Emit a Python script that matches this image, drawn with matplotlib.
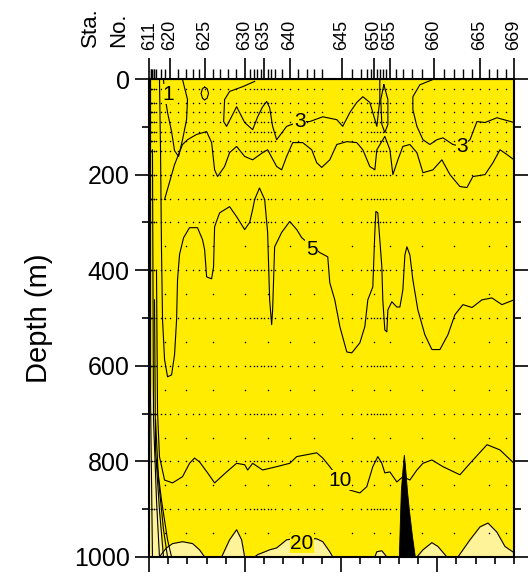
import numpy as np
import matplotlib.pyplot as plt

plt.rcParams['font.family'] = ['Liberation Sans', 'DejaVu Sans']

# station numbers and their position along the section (km)
sta_no = list(range(611, 670))
sta_km = [0.5, 1.6, 2.6, 3.6, 4.7, 5.7, 7.8, 12.0, 16.2, 21.4,
          29.7, 38.0, 45.3, 51.6, 57.9, 66.2, 73.5, 81.8, 90.2, 99.6,
          104.8, 108.9, 112.1, 116.2, 119.4, 123.5, 126.7, 130.8, 138.1, 146.5,
          154.8, 164.2, 171.5, 179.8, 200.7, 211.1, 220.5, 226.7, 230.9, 234.1,
          237.2, 240.3, 243.5, 246.6, 250.8, 257.0, 264.3, 273.7, 284.1, 296.6,
          307.1, 317.5, 326.9, 336.3, 344.6, 354.0, 362.3, 371.7, 379.5]
sta_labeled = [611, 620, 625, 630, 635, 640, 645, 650, 655, 660, 665, 669]

# sampling depths (m)
shallow_depths = [20, 50, 70, 90, 110, 130, 150, 200, 250]
deep_depths = [300, 400, 500, 600, 700, 800, 900, 1000]
half_depths = [350, 450, 550, 650, 750, 850, 950]
half_sta = [619, 622, 626, 630, 636, 640, 643, 646, 650, 655, 659, 662, 666, 668]

# contour lines (distance km, depth m)
c3a_km = [110.0, 97.5, 83.9, 78.7, 77.7, 80.8, 91.2, 94.3, 99.6, 107.9, 113.1, 118.3,
          122.5, 125.6, 128.7, 132.9, 143.3, 156.9, 167.3, 180.9, 195.5, 201.7, 209.1,
          216.3, 222.6, 229.9, 237.2, 240.3, 240.3]
c3a_m = [5, 16, 26, 43, 89, 99, 58, 70, 91, 106, 79, 58,
         47, 60, 99, 127, 99, 89, 89, 79, 85, 99, 70,
         49, 37, 49, 99, 43, 1]
c3b_km = [295.6, 282.0, 274.7, 274.7, 278.9, 285.2, 292.4, 299.7, 306.0, 316.4,
          325.8, 334.2, 341.4, 349.8, 362.2, 380.0]
c3b_m = [1, 12, 37, 64, 99, 127, 137, 127, 123, 137,
         141, 127, 89, 91, 81, 91]
c3c_km = [244.5, 248.7, 248.7, 245.5, 242.4, 241.3, 244.5]
c3c_m = [12, 43, 95, 112, 95, 43, 12]

c4_km = [16.2, 26.6, 34.9, 40.1, 49.5, 60.0, 65.2, 68.3, 71.4, 78.7, 83.9, 91.2,
         99.6, 107.9, 118.3, 123.5, 132.9, 138.1, 143.3, 149.6, 160.0, 169.4, 174.6,
         179.8, 188.2, 195.5, 205.9, 216.3, 222.6, 229.9, 235.1, 237.2, 245.5, 250.8,
         253.9, 259.1, 264.3, 271.6, 278.9, 285.2, 295.6, 304.9, 313.3, 323.7, 331.0,
         337.2, 349.8, 358.1, 365.4, 372.7, 380.0]
c4_m = [252, 179, 137, 127, 116, 110, 133, 190, 204, 183, 154, 141,
        162, 169, 154, 148, 183, 190, 162, 133, 133, 148, 175,
        185, 169, 137, 131, 133, 148, 183, 190, 148, 120, 148,
        200, 169, 141, 137, 154, 196, 190, 169, 200, 225, 227,
        204, 200, 175, 148, 158, 169]

c5_km = [10.9, 12.0, 13.0, 14.1, 16.2, 19.3, 23.5, 26.6, 28.7, 29.7, 31.8, 36.0,
         42.2, 50.5, 55.7, 57.9, 60.0, 65.2, 67.2, 68.3, 73.5, 83.9, 91.2, 99.6,
         104.8, 107.9, 110.0, 115.0, 120.4, 123.5, 125.6, 127.7, 128.7, 130.8, 138.1,
         146.5, 153.8, 159.0, 177.7, 186.1, 188.2, 193.4, 198.7, 205.9, 211.1, 219.5,
         224.7, 227.8, 233.0, 235.1, 236.2, 238.2, 242.4, 243.4, 245.5, 247.6, 248.7,
         252.8, 258.0, 261.2, 264.3, 266.4, 268.5, 271.6, 274.7, 279.9, 287.2, 294.5,
         302.9, 311.2, 318.5, 326.8, 336.3, 346.6, 357.0, 367.4, 380.0]
c5_m = [1, 148, 357, 504, 587, 623, 619, 577, 504, 420, 367, 332,
        311, 311, 336, 357, 414, 418, 393, 309, 280, 267, 288, 315,
        300, 273, 252, 228, 252, 321, 462, 514, 483, 351, 321,
        298, 315, 332, 363, 372, 426, 462, 518, 571, 573, 552,
        518, 462, 435, 321, 277, 280, 393, 462, 525, 529, 483,
        466, 477, 477, 441, 368, 351, 368, 420, 483, 535, 566,
        566, 535, 493, 472, 478, 462, 458, 472, 462]

c10_km = [7.8, 8.9, 10.9, 16.2, 24.5, 34.9, 42.2, 47.4, 52.6, 61.0, 68.3, 80.8,
          91.2, 99.6, 102.7, 107.9, 113.1, 118.3, 132.9, 146.5, 153.8, 164.2, 174.6,
          180.9, 188.2, 198.7, 209.1, 219.5, 226.7, 233.0, 238.2, 242.4, 245.5, 250.8,
          258.0, 264.3, 271.6, 278.9, 285.2, 294.5, 306.0, 323.7, 334.2, 351.9, 365.4,
          380.0]
c10_m = [400, 698, 790, 839, 845, 832, 804, 793, 801, 824, 845, 822,
         804, 807, 818, 804, 811, 818, 811, 804, 790, 786, 782,
         793, 811, 839, 860, 866, 853, 811, 790, 804, 824, 822,
         843, 832, 839, 818, 804, 797, 811, 828, 804, 765, 776,
         804]

c1_km = [34.9, 40.1, 39.1, 34.9, 30.8, 26.6, 23.5, 19.3, 16.2, 15.1]
c1_m = [1, 43, 85, 127, 162, 150, 110, 70, 30, 1]
c1_loop_km = [57.9, 60.5, 62.0, 60.5, 57.9, 55.7, 54.2, 55.7, 57.9]
c1_loop_m = [17, 20, 30, 40, 44, 40, 30, 20, 17]

# steep front along the inshore end of the section
edge_km = [[1.6, 1.6, 3.6], [3.6, 4.7, 7.8, 10.9], [5.7, 6.8, 10.9, 15.1],
           [6.8, 9.9, 15.1, 19.3], [7.8, 13.0, 19.3, 23.5]]
edge_m = [[1, 671, 1000], [148, 713, 881, 1000], [462, 776, 902, 1000],
          [713, 839, 943, 1000], [797, 881, 964, 1000]]
edge_fill_km = [0, 5.7, 6.8, 10.9, 15.1, 0]
edge_fill_m = [600, 700, 776, 902, 1000, 1000]

# regions above 20 near the bottom
b20_km = [[10.9, 14.1, 18.2, 24.5, 34.9, 45.4, 52.6, 57.9],
          [75.6, 83.9, 91.2, 96.4, 99.6],
          [110.0, 113.1, 118.3, 125.6, 132.9, 143.3, 159.0, 174.6, 180.9, 188.2, 191.3],
          [235.1, 237.2, 242.4, 247.6],
          [278.9, 285.2, 294.5, 300.8, 308.0, 310.1],
          [321.6, 334.2, 344.6, 352.9, 362.2, 370.6, 380.0]]
b20_m = [[1000, 991, 981, 972, 968, 972, 985, 1000],
         [1000, 964, 943, 964, 1000],
         [1000, 995, 991, 985, 981, 964, 960, 962, 968, 989, 1000],
         [1000, 989, 987, 1000],
         [1000, 985, 970, 978, 995, 1000],
         [1000, 964, 937, 929, 948, 978, 991]]

# bottom topography (seamount)
bot_km = [260.1, 261.2, 262.2, 264.3, 265.3, 266.4, 268.5, 270.6, 273.7, 276.8]
bot_m = [1000, 923, 860, 807, 786, 807, 860, 902, 955, 1000]

# contour labels
lab_txt = ['1', '3', '3', '5', '10', '20']
lab_km = [20.3, 156.9, 325.8, 169.4, 198.7, 159.0]
lab_m = [32, 89, 141, 356, 839, 971]

yellow = '#ffec00'
pale = '#fff39a'

fig = plt.figure(figsize=(5.28, 5.76), dpi=100)
ax = fig.add_axes([0.2822, 0.0330, 0.6913, 0.8298])
ax.set_facecolor(yellow)

lw = 0.8
ax.fill(edge_fill_km, edge_fill_m, color=pale, lw=0)
for xs, ys in zip(b20_km, b20_m):
    ax.fill_between(xs, ys, 1000, color=pale, lw=0)
    ax.plot(xs, ys, color='k', lw=lw)
for xs, ys in zip(edge_km, edge_m):
    ax.plot(xs, ys, color='k', lw=lw)

for xs, ys in [(c3a_km, c3a_m), (c3b_km, c3b_m), (c3c_km, c3c_m), (c4_km, c4_m),
               (c5_km, c5_m), (c10_km, c10_m), (c1_km, c1_m), (c1_loop_km, c1_loop_m)]:
    ax.plot(xs, ys, color='k', lw=lw)

ax.fill_between(bot_km, bot_m, 1000, color='k', lw=0.6)

# sample points
px, py = [], []
for s, x in zip(sta_no, sta_km):
    for d in shallow_depths + deep_depths:
        px.append(x)
        py.append(d)
    if s in half_sta:
        for d in half_depths:
            px.append(x)
            py.append(d)
ax.plot(px, py, 'k.', ms=2.2, mew=0)

for t, x, y in zip(lab_txt, lab_km, lab_m):
    ax.text(x, y, t, fontsize=15, ha='center', va='center',
            bbox=dict(facecolor=yellow, edgecolor='none', pad=0.3))

ax.set_xlim(0, 380)
ax.set_ylim(1000, 0)
ax.set_yticks(range(0, 1001, 200))
ax.set_yticks(range(100, 1000, 200), minor=True)
ax.set_xticks(range(0, 381, 100))
ax.set_xticks(range(0, 381, 20), minor=True)
ax.set_xticklabels([])
ax.tick_params(axis='y', which='both', left=True, right=True, direction='out',
               labelsize=18, pad=4, width=1.2)
ax.tick_params(axis='y', which='major', length=10)
ax.tick_params(axis='y', which='minor', length=5)
ax.tick_params(axis='x', which='both', bottom=True, top=False, direction='out', width=1.2)
ax.tick_params(axis='x', which='major', length=11)
ax.tick_params(axis='x', which='minor', length=5)
for sp in ax.spines.values():
    sp.set_linewidth(1.5)

# station axis on top
top = ax.secondary_xaxis('top')
lab_pos = [sta_km[sta_no.index(s)] for s in sta_labeled]
other_pos = [x for s, x in zip(sta_no, sta_km) if s not in sta_labeled]
top.set_xticks(lab_pos, [str(s) for s in sta_labeled])
top.set_xticks(other_pos, minor=True)
top.tick_params(which='major', length=15, width=1.2, labelsize=13, rotation=90, pad=6)
top.tick_params(which='minor', length=7, width=1.0)

fig.text(90 / 528, 1 - 47 / 576, 'Sta.', rotation=90, ha='center', va='bottom', fontsize=16)
fig.text(119 / 528, 1 - 47 / 576, 'No.', rotation=90, ha='center', va='bottom', fontsize=16)
fig.text(39 / 528, 1 - 318 / 576, 'Depth (m)', rotation=90, ha='center', va='center', fontsize=21)

fig.savefig('out.png', dpi=100)
